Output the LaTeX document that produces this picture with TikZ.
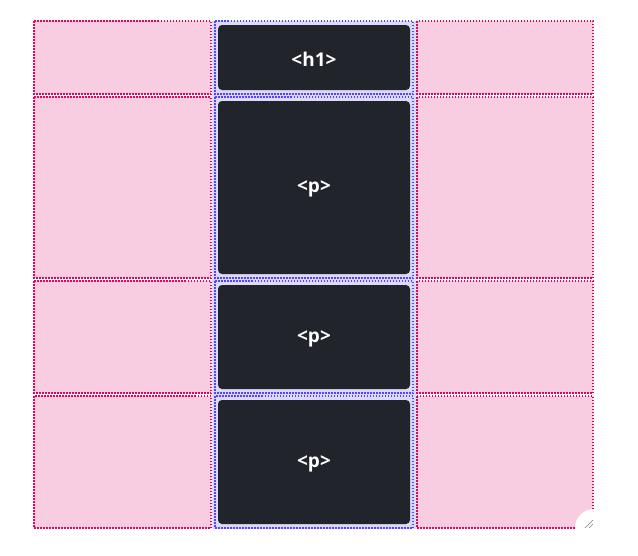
\documentclass[tikz,border=0pt]{standalone}
\usepackage{fontspec}
\setmainfont{Open Sans}
\usetikzlibrary{calc}
\definecolor{cellpink}{HTML}{F8CCE1}
\definecolor{linepink}{HTML}{E8005A}
\definecolor{lineblue}{HTML}{5544FF}
\definecolor{lavender}{HTML}{DCDAFA}
\definecolor{boxdark}{HTML}{22242C}
\tikzset{
  dots/.style={line width=1.6pt,dash pattern=on 1.5pt off 1.5pt},
  pinkcell/.style={dots,draw=linepink,fill=cellpink},
  bluecell/.style={dots,draw=lineblue},
  tagtext/.style={text=white,font=\fontsize{19}{22}\selectfont\bfseries,inner sep=0pt}
}
\begin{document}
\begin{tikzpicture}[x=1pt,y=-1pt]
\useasboundingbox (0,0) rectangle (638,555);
% middle column background
\fill[lavender] (212,21) rectangle (416,529);
\foreach \t/\b/\tag/\n in {21/94/{<h1>}/a,97/278/{<p>}/b,281/393/{<p>}/c,396/528/{<p>}/d}{
\draw[pinkcell] (34,\t) rectangle (211,\b);
\draw[pinkcell] (417,\t) rectangle (593,\b);
\draw[bluecell] (215,\t) rectangle (413,\b);
\fill[boxdark,rounded corners=4pt] (218,\t+4) rectangle (410,\b-4);
\node[tagtext,yshift=-1.5pt] (tag-\n) at (314,{(\t+\b)/2}) {\tag};
}
% resize grip
\fill[white] (594,528) circle (19);
\coordinate (grip) at (589,524);
\draw[gray,line width=0.6pt] ($(grip)+(-4,4)$) -- ($(grip)+(4,-4)$);
\draw[gray,line width=0.6pt] ($(grip)+(0,4)$) -- ($(grip)+(4,0)$);
\end{tikzpicture}
\end{document}
